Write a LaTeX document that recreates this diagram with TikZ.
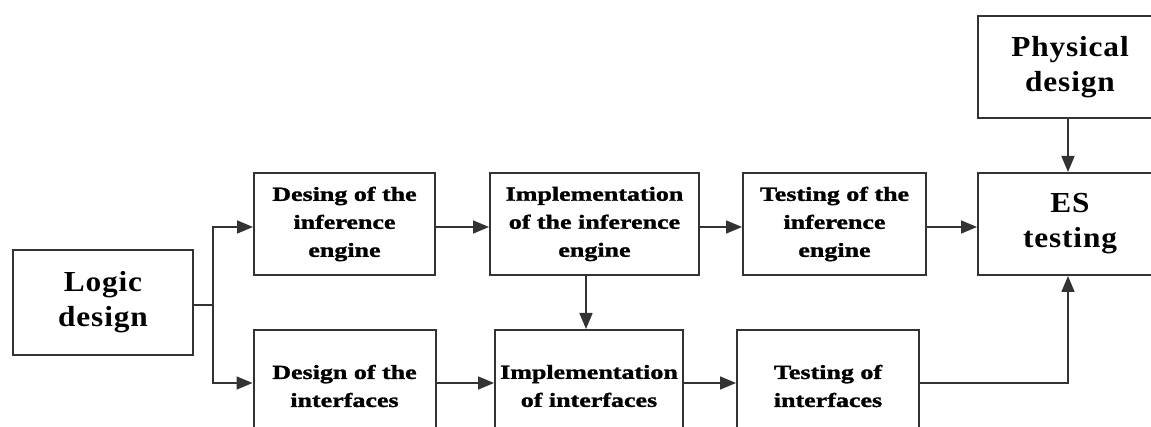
\documentclass[tikz,border=0pt]{standalone}
\usepackage{fontspec}
\usetikzlibrary{arrows.meta}
\newfontfamily\smallf{Liberation Serif}[FakeStretch=1.3,BoldFeatures={FakeBold=1.5}]
\newfontfamily\bigf{Liberation Serif}[FakeStretch=1.08,LetterSpace=3]
\definecolor{linecol}{HTML}{333333}
\tikzset{
  box/.style={draw=linecol, line width=2pt, fill=white, inner sep=0pt, align=center, text=black},
  smallbox/.style={box, font=\smallf\bfseries\fontsize{20}{28}\selectfont},
  bigbox/.style={box, font=\bigf\bfseries\fontsize{29}{35}\selectfont},
  arr/.style={draw=linecol, line width=1.6pt, -{Triangle[length=16pt,width=13pt]}},
  ln/.style={draw=linecol, line width=1.6pt}
}
\begin{document}
\begin{tikzpicture}[x=1pt,y=-1pt]
\useasboundingbox (0,0) rectangle (1151,427);
\clip (0,0) rectangle (1151,427);
\fill[white] (0,0) rectangle (1151,427);
% nodes
\node[bigbox, minimum width=180pt, minimum height=105pt] (logic) at (103,302.5) {Logic\\design};
\node[smallbox, minimum width=181pt, minimum height=102pt] (des1) at (344.5,224) {Desing of the\\inference\\engine};
\node[smallbox, minimum width=182pt, minimum height=112pt] (des2) at (344.5,386) {Design of the\\interfaces};
\node[smallbox, minimum width=209pt, minimum height=102pt] (imp1) at (594.5,224) {Implementation\\of the inference\\engine};
\node[smallbox, minimum width=188pt, minimum height=112pt] (imp2) at (589,386) {Implementation\\of interfaces};
\node[smallbox, minimum width=183pt, minimum height=102pt] (tst1) at (834.5,224) {Testing of the\\inference\\engine};
\node[smallbox, minimum width=182pt, minimum height=112pt] (tst2) at (828,386) {Testing of\\interfaces};
\node[bigbox, minimum width=184pt, minimum height=102pt] (phys) at (1070,67.5) {Physical\\design};
\node[bigbox, minimum width=184pt, minimum height=102pt] (es) at (1070,224) {ES\\testing};
\coordinate (split) at (213,305);
% connectors
\draw[ln] (logic.east |- split) -- (split);
\draw[arr] (split) |- ([yshift=-3pt]des1.west);
\draw[arr] (split) |- ([yshift=3pt]des2.west);
\draw[arr] ([yshift=-3pt]des1.east) -- ([yshift=-3pt]imp1.west);
\draw[arr] ([yshift=-3pt]imp1.east) -- ([yshift=-3pt]tst1.west);
\draw[arr] ([yshift=-3pt]tst1.east) -- ([yshift=-3pt]es.west);
\draw[arr] ([yshift=3pt]des2.east) -- ([yshift=3pt]imp2.west);
\draw[arr] ([yshift=3pt]imp2.east) -- ([yshift=3pt]tst2.west);
\draw[arr] ([yshift=3pt]tst2.east) -| ([xshift=-2pt]es.south);
\draw[arr] ([xshift=-3pt]imp2.north |- imp1.south) -- ([xshift=-3pt]imp2.north);
\draw[arr] ([xshift=-2pt]phys.south) -- ([xshift=-2pt]es.north);
\end{tikzpicture}
\end{document}
